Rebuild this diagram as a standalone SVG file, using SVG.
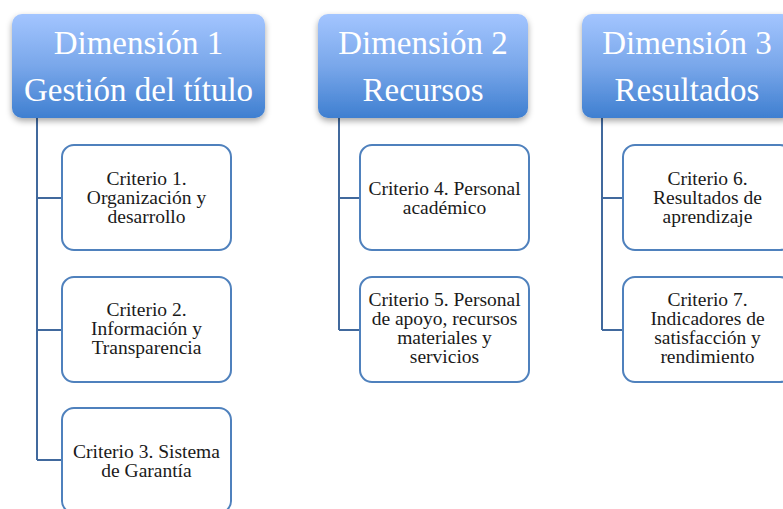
<svg xmlns="http://www.w3.org/2000/svg" width="783" height="509" viewBox="0 0 783 509">
<defs>
<linearGradient id="hg" x1="0" y1="0" x2="0" y2="1">
<stop offset="0" stop-color="#a3c5ff"/>
<stop offset="0.5" stop-color="#79a7ea"/>
<stop offset="1" stop-color="#3f7fd0"/>
</linearGradient>
<filter id="sh" x="-10%" y="-10%" width="120%" height="130%">
<feDropShadow dx="0" dy="3" stdDeviation="3" flood-color="#000" flood-opacity="0.35"/>
</filter>
</defs>
<style>
.hdr{fill:url(#hg);filter:url(#sh);}
.ht{font-family:"Liberation Serif",serif;font-size:33px;fill:#fff;text-anchor:middle;}
.box{fill:#fff;stroke:#4f81bd;stroke-width:2;}
.bt{font-family:"Liberation Serif",serif;font-size:19.5px;fill:#1a1a1a;text-anchor:middle;}
.con{fill:none;stroke:#41699d;stroke-width:2;}
</style>
<rect width="783" height="509" fill="#fff"/>
<g id="connectors">
<path class="con" d="M37,118 V460 M37,198 H62 M37,330 H62 M37,460 H62"/>
<path class="con" d="M339,118 V330 M339,198 H360 M339,330 H360"/>
<path class="con" d="M602,118 V330 M602,198 H623 M602,330 H623"/>
</g>
<g id="dim1">
<rect class="hdr" x="12" y="14" width="253" height="104" rx="10"/>
<text class="ht" x="138.5" y="54">Dimensión 1</text>
<text class="ht" x="138.5" y="101">Gestión del título</text>
</g>
<g id="dim2">
<rect class="hdr" x="318" y="14" width="210" height="104" rx="10"/>
<text class="ht" x="423" y="54">Dimensión 2</text>
<text class="ht" x="423" y="101">Recursos</text>
</g>
<g id="dim3">
<rect class="hdr" x="582" y="14" width="210" height="104" rx="10"/>
<text class="ht" x="687" y="54">Dimensión 3</text>
<text class="ht" x="687" y="101">Resultados</text>
</g>
<g id="c1">
<rect class="box" x="62" y="145" width="169" height="105" rx="12"/>
<text class="bt" x="146.5" y="185">Criterio 1.</text>
<text class="bt" x="146.5" y="204">Organización y</text>
<text class="bt" x="146.5" y="223">desarrollo</text>
</g>
<g id="c2">
<rect class="box" x="62" y="277" width="169" height="105" rx="12"/>
<text class="bt" x="146.5" y="316">Criterio 2.</text>
<text class="bt" x="146.5" y="335">Información y</text>
<text class="bt" x="146.5" y="354">Transparencia</text>
</g>
<g id="c3">
<rect class="box" x="62" y="408" width="169" height="105" rx="12"/>
<text class="bt" x="146.5" y="458">Criterio 3. Sistema</text>
<text class="bt" x="146.5" y="477">de Garantía</text>
</g>
<g id="c4">
<rect class="box" x="360" y="145" width="169" height="105" rx="12"/>
<text class="bt" x="444.5" y="195">Criterio 4. Personal</text>
<text class="bt" x="444.5" y="214">académico</text>
</g>
<g id="c5">
<rect class="box" x="360" y="277" width="169" height="105" rx="12"/>
<text class="bt" x="444.5" y="306">Criterio 5. Personal</text>
<text class="bt" x="444.5" y="325">de apoyo, recursos</text>
<text class="bt" x="444.5" y="344">materiales y</text>
<text class="bt" x="444.5" y="363">servicios</text>
</g>
<g id="c6">
<rect class="box" x="623" y="145" width="169" height="105" rx="12"/>
<text class="bt" x="707.5" y="185">Criterio 6.</text>
<text class="bt" x="707.5" y="204">Resultados de</text>
<text class="bt" x="707.5" y="223">aprendizaje</text>
</g>
<g id="c7">
<rect class="box" x="623" y="277" width="169" height="105" rx="12"/>
<text class="bt" x="707.5" y="306">Criterio 7.</text>
<text class="bt" x="707.5" y="325">Indicadores de</text>
<text class="bt" x="707.5" y="344">satisfacción y</text>
<text class="bt" x="707.5" y="363">rendimiento</text>
</g>
</svg>
